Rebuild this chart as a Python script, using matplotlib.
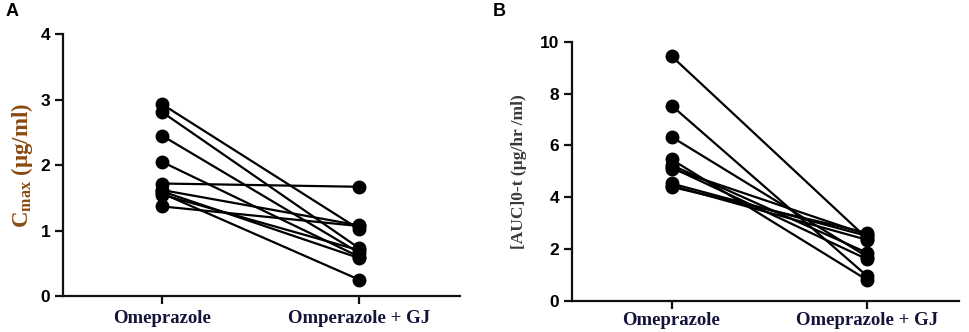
import matplotlib
matplotlib.use("Agg")
import matplotlib.pyplot as plt

# ---- data ----
categories_a = ["Omeprazole", "Omperazole + GJ"]
categories_b = ["Omeprazole", "Omeprazole + GJ"]

cmax_omeprazole = [2.93, 2.81, 2.45, 2.05, 1.72, 1.62, 1.60, 1.57, 1.55, 1.37]
cmax_gj         = [1.02, 0.73, 0.66, 0.60, 1.67, 1.08, 0.58, 0.25, 0.70, 1.07]

auc_omeprazole = [9.45, 7.54, 6.33, 5.46, 5.24, 5.15, 5.10, 4.53, 4.40, 4.45]
auc_gj         = [2.40, 0.95, 1.70, 0.80, 1.85, 1.60, 2.55, 2.50, 2.62, 2.35]

yticks_a = [0, 1, 2, 3, 4]
yticks_b = [0, 2, 4, 6, 8, 10]

fig = plt.figure(figsize=(9.69, 3.32), dpi=100)

tick_font = dict(family="Liberation Sans", weight="bold", size=12.5)
xlab_color = "#14143a"


def style_axes(ax, cats, yticks, xlim):
    for s in ("top", "right"):
        ax.spines[s].set_visible(False)
    for s in ("left", "bottom"):
        ax.spines[s].set_linewidth(1.6)
        ax.spines[s].set_color("#111111")
    ax.set_xlim(*xlim)
    ax.set_ylim(yticks[0], yticks[-1])
    ax.set_yticks(yticks)
    ax.set_yticklabels([str(t) for t in yticks], fontdict=tick_font)
    ax.set_xticks(range(len(cats)))
    ax.set_xticklabels(cats, family="Liberation Serif", weight="bold",
                       size=13.5, color=xlab_color)
    ax.tick_params(axis="both", direction="out", length=6, width=1.6,
                   color="#111111")
    ax.tick_params(axis="x", pad=4)
    ax.tick_params(axis="y", pad=3)


def draw_pairs(ax, before, after):
    for b, a in zip(before, after):
        ax.plot([0, 1], [b, a], color="black", lw=1.6, marker="o",
                markersize=9, markerfacecolor="black",
                markeredgecolor="black", clip_on=False, zorder=3)


# Panel A
axA = fig.add_axes([0.065, 0.108, 0.410, 0.789])
draw_pairs(axA, cmax_omeprazole, cmax_gj)
style_axes(axA, categories_a, yticks_a, (-0.503, 1.512))
axA.set_ylabel(r"C$_{\mathregular{max}}$ (µg/ml)", family="Liberation Serif",
               weight="bold", size=16.5, color="#8a4a12", labelpad=4)
fig.text(0.006, 0.965, "A", family="Liberation Sans", weight="bold",
         size=13, va="center", ha="left")

# Panel B
axB = fig.add_axes([0.590, 0.094, 0.400, 0.780])
draw_pairs(axB, auc_omeprazole, auc_gj)
style_axes(axB, categories_b, yticks_b, (-0.51, 1.47))
axB.tick_params(axis="x", pad=2)
axB.set_ylabel("[AUC]0-t (µg/hr /ml)", family="Liberation Serif",
               weight="bold", size=12.5, color="#3a3a3a", labelpad=9)
fig.text(0.509, 0.965, "B", family="Liberation Sans", weight="bold",
         size=13, va="center", ha="left")

fig.savefig("out.png", dpi=100)
